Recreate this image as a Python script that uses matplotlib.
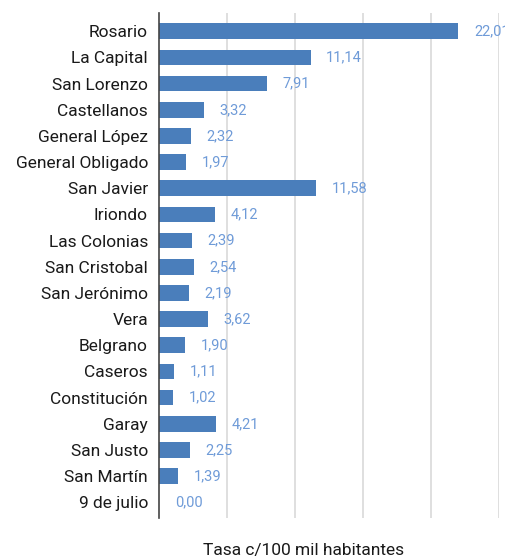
import matplotlib.pyplot as plt

# Datos
departamentos = ['Rosario', 'La Capital', 'San Lorenzo', 'Castellanos', 'General López',
                 'General Obligado', 'San Javier', 'Iriondo', 'Las Colonias', 'San Cristobal',
                 'San Jerónimo', 'Vera', 'Belgrano', 'Caseros', 'Constitución', 'Garay',
                 'San Justo', 'San Martín', '9 de julio']
tasas = [22.01, 11.14, 7.91, 3.32, 2.32, 1.97, 11.58, 4.12, 2.39, 2.54,
         2.19, 3.62, 1.90, 1.11, 1.02, 4.21, 2.25, 1.39, 0.00]

plt.rcParams['font.family'] = ['Roboto', 'DejaVu Sans']

fig = plt.figure(figsize=(5.06, 5.58), dpi=100)
ax = fig.add_axes([159 / 506, 1 - 518 / 558, 340 / 506, 505 / 558])

y = list(range(len(departamentos)))
ax.barh(y, tasas, height=0.6, color='#4a7ebb', zorder=3)

for i, v in enumerate(tasas):
    ax.text(v + 1.15, i, f'{v:.2f}'.replace('.', ','), va='center', ha='left',
            fontsize=10.5, color='#6f9bd8', clip_on=False)

ax.set_xlim(0, 25)
ax.set_ylim(len(departamentos) - 0.4, -0.7)
ax.set_yticks(y)
ax.set_yticklabels(departamentos, fontsize=12.5, color='#1a1a1a')
ax.set_xticks([5, 10, 15, 20, 25])
ax.tick_params(axis='x', length=0, labelbottom=False)
ax.tick_params(axis='y', length=0, pad=8)
ax.grid(axis='x', color='#d9d9d9', linewidth=1.2, zorder=0)

for s in ['top', 'right', 'bottom']:
    ax.spines[s].set_visible(False)
ax.spines['left'].set_color('#444444')
ax.spines['left'].set_linewidth(1.2)
ax.spines['left'].set_zorder(4)

fig.text(304 / 506, 1 - 550 / 558, 'Tasa c/100 mil habitantes', ha='center', va='center',
         fontsize=12.5, color='#1a1a1a')

fig.savefig('out.png', dpi=100)
